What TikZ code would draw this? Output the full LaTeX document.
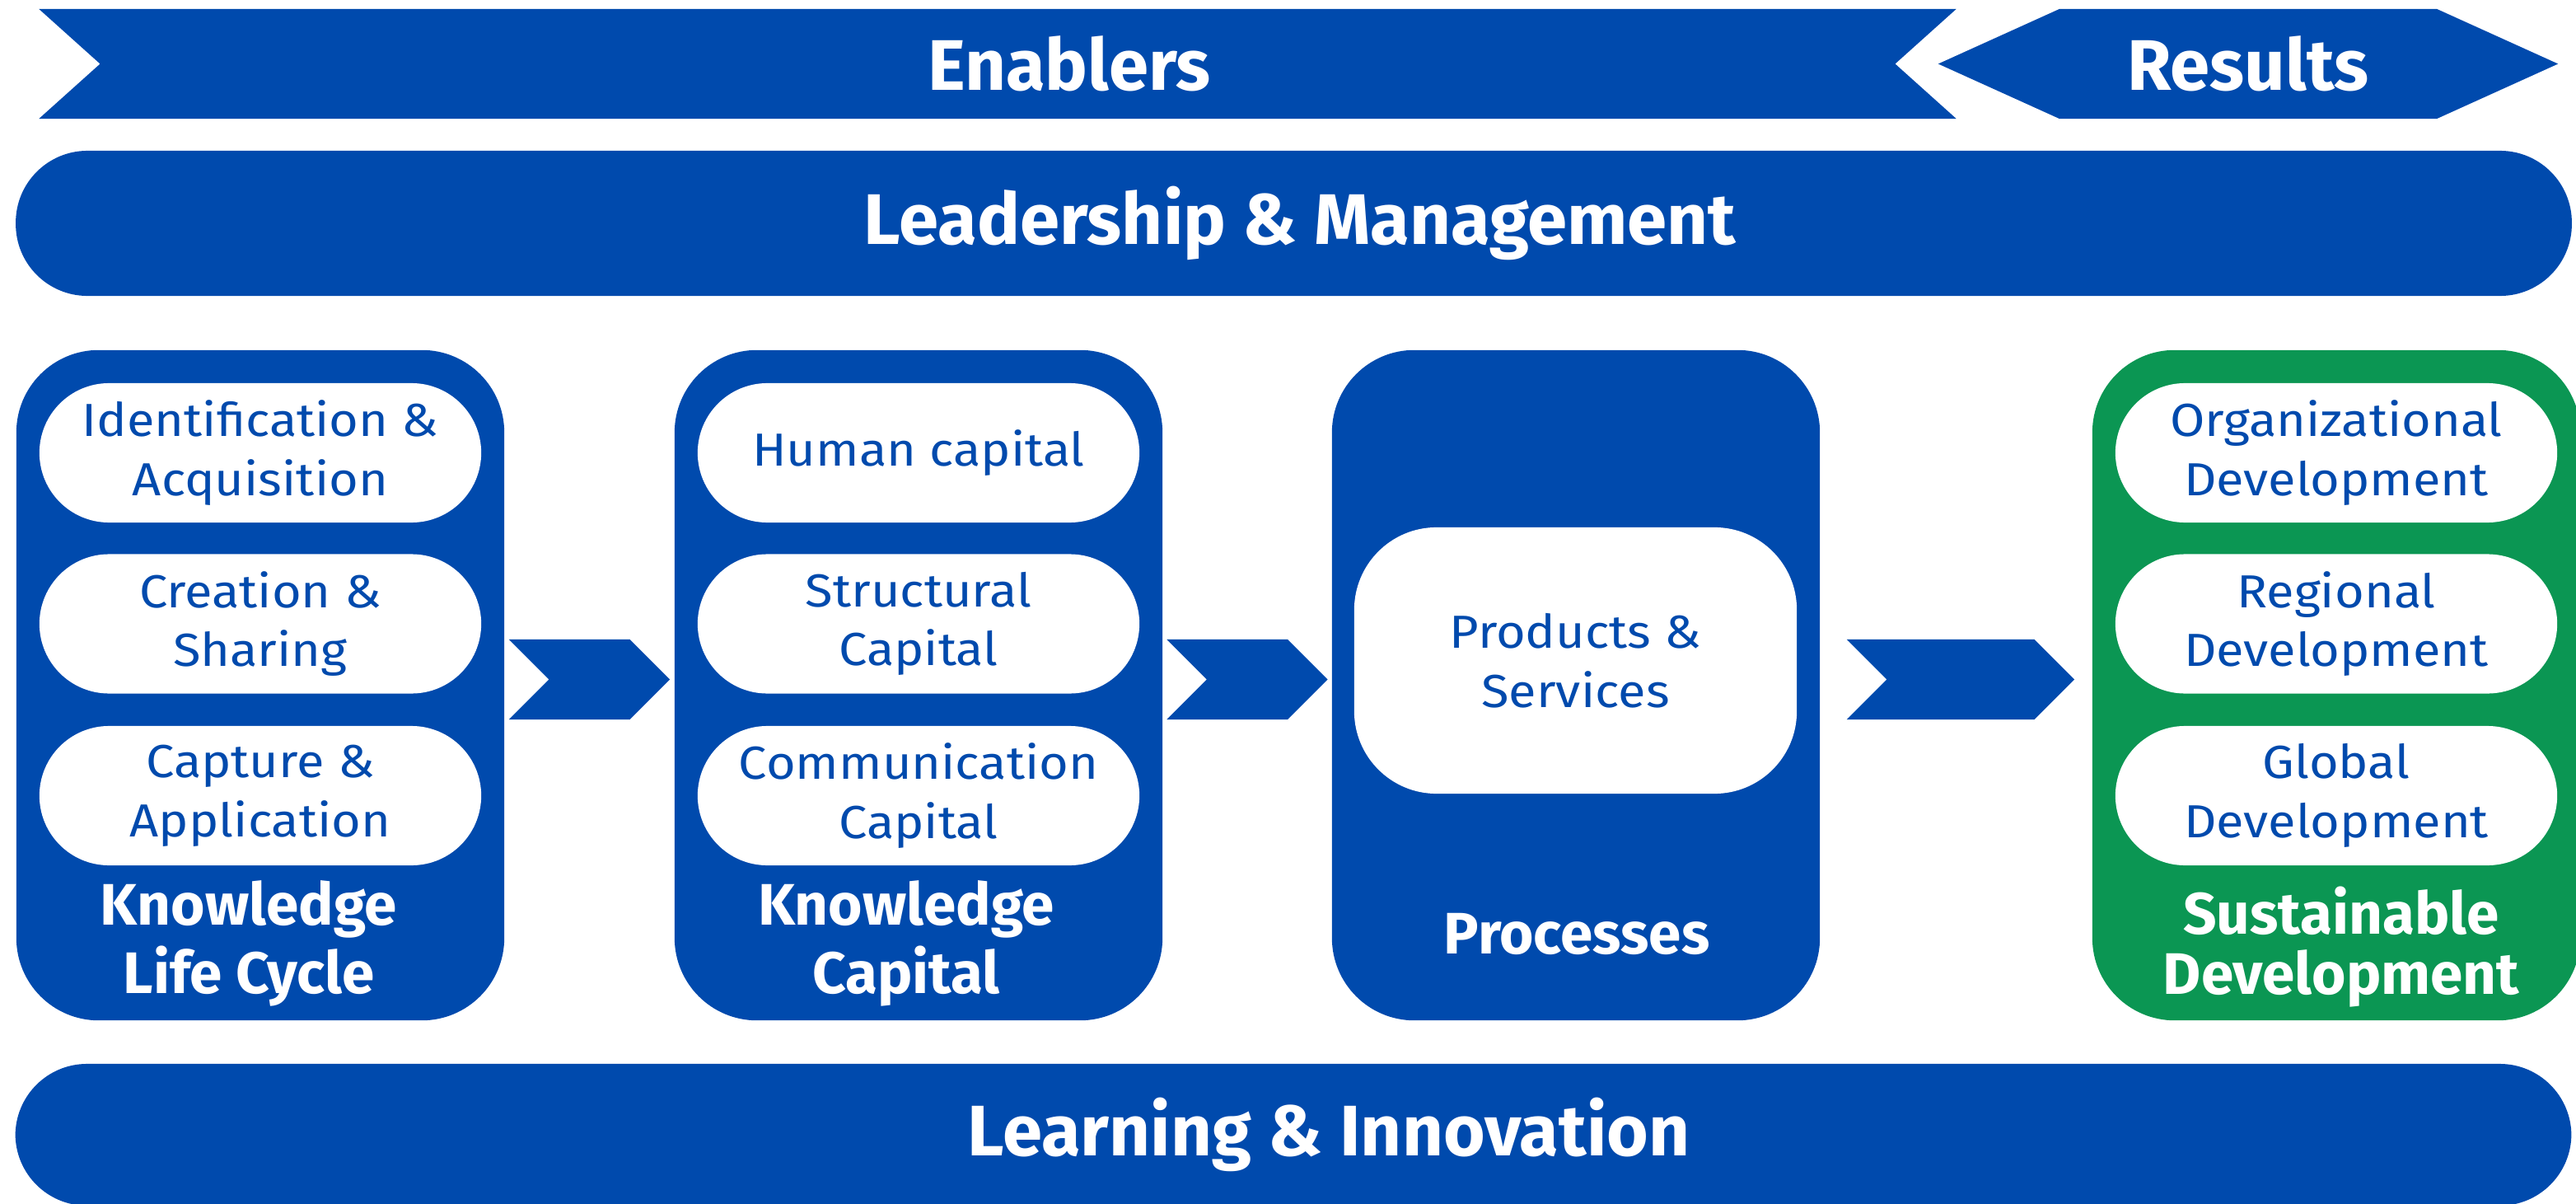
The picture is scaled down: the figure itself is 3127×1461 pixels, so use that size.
\documentclass[tikz,border=0pt]{standalone}
\usepackage{fontspec}
\setmainfont{Fira Sans}
\newfontfamily\pillfamily{Fira Sans}[FakeStretch=1.09]
\usetikzlibrary{shapes.symbols,calc}

\definecolor{kblue}{HTML}{004AAD}
\definecolor{kgreen}{HTML}{0B9653}

\newcommand\bandfont{\bfseries\fontsize{24.7}{28}\selectfont}
\newcommand\tagfont{\bfseries\fontsize{20.2}{23.8}\selectfont}
\newcommand\pillfont{\pillfamily\fontsize{16}{20.4}\selectfont}

\tikzset{
  arrowband/.style={signal, fill=kblue, inner sep=0pt, minimum height=1.33cm},
  chevron/.style={signal, fill=kblue, inner sep=0pt, signal from=west, signal to=east,
    signal pointer angle=90, minimum height=0.97cm},
  band/.style={fill=kblue, inner sep=0pt, rounded corners=0.87cm, minimum width=31.01cm},
  bandtext/.style={text=white, font=\bandfont},
  block/.style={fill=kblue, inner sep=0pt, rounded corners=1cm, minimum width=5.92cm, minimum height=8.13cm},
  pill/.style={fill=white, text=kblue, font=\pillfont, align=center, inner sep=0pt,
    rounded corners=0.845cm, minimum width=5.36cm, minimum height=1.69cm},
  tag/.style={text=white, font=\tagfont, align=center}
}

\begin{document}
\begin{tikzpicture}[x=0.01cm, y=-0.01cm]
  \useasboundingbox (0,0) rectangle (3127,1461);
  \clip (0,0) rectangle (3127,1461);

  % top row
  \node[arrowband, signal to=nowhere, signal from=west and east, signal pointer angle=83.8,
    minimum width=23.26cm] (enab) at (1211,77.5) {};
  \node[bandtext] (enabt) at (1298,77.5) {Enablers};
  \node[arrowband, signal to=west and east, signal pointer angle=48.7, minimum width=7.52cm,
    text=white, font=\bandfont] (res) at (2729,77.5) {Results};

  % bands
  \node[band, minimum height=1.76cm] (lead) at (1570.5,271) {};
  \node[bandtext] (leadt) at (1578,271) {Leadership \& Management};
  \node[band, minimum height=1.72cm] (learn) at (1570,1377) {};
  \node[bandtext] (learnt) at (1613,1377) {Learning \& Innovation};

  % blocks
  \node[block] (cycle) at (316,831.5) {};
  \node[block] (capital) at (1115,831.5) {};
  \node[block] (proc) at (1913,831.5) {};
  \node[block, fill=kgreen] (sust) at (2836,831.5) {};

  % inner items
  \node[pill] (ident) at (316,549.5) {Identification \&\\Acquisition};
  \node[pill] (create) at (316,757) {Creation \&\\Sharing};
  \node[pill] (capt) at (316,965.5) {Capture \&\\Application};

  \node[pill] (human) at (1115,549.5) {Human capital};
  \node[pill] (struct) at (1115,757) {Structural\\Capital};
  \node[pill] (comm) at (1115,965.5) {Communication\\Capital};

  \node[pill, rounded corners=1cm, minimum width=5.37cm, minimum height=3.23cm] (prod) at (1912.5,801.5) {Products \&\\Services};

  \node[pill] (org) at (2836,549.5) {Organizational\\Development};
  \node[pill] (reg) at (2836,757) {Regional\\Development};
  \node[pill] (glob) at (2836,965.5) {Global\\Development};

  % block titles
  \node[tag] (cyclet) at (302,1145) {Knowledge\\Life Cycle};
  \node[tag] (capitalt) at (1100,1145) {Knowledge\\Capital};
  \node[tag] (proct) at (1914,1133) {Processes};
  \node[tag, font=\bfseries\fontsize{20.2}{20.7}\selectfont] (sustt) at (2842,1149) {Sustainable\\Development};

  % chevrons between blocks
  \node[chevron, minimum width=1.95cm] (ch1) at ($(cycle.east)!0.5!(capital.west)+(0,-7)$) {};
  \node[chevron, minimum width=1.95cm] (ch2) at ($(capital.east)!0.5!(proc.west)+(0,-7)$) {};
  \node[chevron, minimum width=2.76cm] (ch3) at (2380,824.5) {};
\end{tikzpicture}
\end{document}
